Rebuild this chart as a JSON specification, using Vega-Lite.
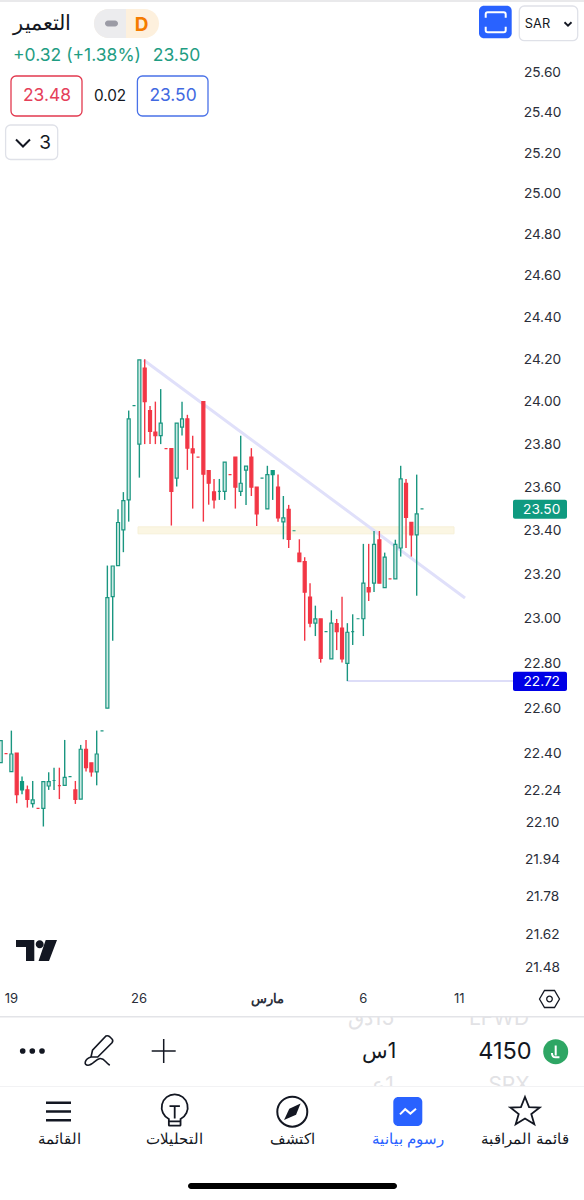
{"$schema":"https://vega.github.io/schema/vega-lite/v6.json","width":584,"height":1200,"padding":0,"autosize":{"type":"none"},"background":"white","config":{"view":{"stroke":null},"text":{"font":"Inter"}},
"datasets":{"candles":[
{"i":0,"o":22.354,"h":22.451,"l":22.354,"c":22.451,"kind":"up"},
{"i":1,"o":22.394,"h":22.394,"l":22.394,"c":22.394,"kind":"down"},
{"i":2,"o":22.315,"h":22.495,"l":22.315,"c":22.392,"kind":"up"},
{"i":3,"o":22.396,"h":22.396,"l":22.177,"c":22.214,"kind":"down"},
{"i":4,"o":22.235,"h":22.293,"l":22.216,"c":22.271,"kind":"solid"},
{"i":5,"o":22.235,"h":22.254,"l":22.158,"c":22.194,"kind":"down"},
{"i":6,"o":22.175,"h":22.274,"l":22.158,"c":22.192,"kind":"up"},
{"i":7,"o":22.155,"h":22.155,"l":22.155,"c":22.155,"kind":"down"},
{"i":8,"o":22.155,"h":22.271,"l":22.076,"c":22.271,"kind":"up"},
{"i":9,"o":22.252,"h":22.312,"l":22.235,"c":22.271,"kind":"up"},
{"i":10,"o":22.276,"h":22.332,"l":22.235,"c":22.276,"kind":"up"},
{"i":11,"o":22.254,"h":22.332,"l":22.195,"c":22.254,"kind":"down"},
{"i":12,"o":22.255,"h":22.454,"l":22.255,"c":22.29,"kind":"up"},
{"i":13,"o":22.293,"h":22.293,"l":22.293,"c":22.293,"kind":"up"},
{"i":14,"o":22.235,"h":22.274,"l":22.174,"c":22.194,"kind":"down"},
{"i":15,"o":22.195,"h":22.432,"l":22.195,"c":22.413,"kind":"up"},
{"i":16,"o":22.413,"h":22.454,"l":22.315,"c":22.332,"kind":"down"},
{"i":17,"o":22.353,"h":22.353,"l":22.293,"c":22.314,"kind":"down"},
{"i":18,"o":22.314,"h":22.495,"l":22.255,"c":22.392,"kind":"up"},
{"i":19,"o":22.494,"h":22.494,"l":22.494,"c":22.494,"kind":"up"},
{"i":20,"o":22.594,"h":23.235,"l":22.594,"c":23.089,"kind":"up"},
{"i":21,"o":23.094,"h":23.233,"l":22.895,"c":23.233,"kind":"up"},
{"i":22,"o":23.235,"h":23.493,"l":23.235,"c":23.432,"kind":"up"},
{"i":23,"o":23.398,"h":23.572,"l":23.296,"c":23.533,"kind":"up"},
{"i":24,"o":23.536,"h":23.952,"l":23.436,"c":23.913,"kind":"up"},
{"i":25,"o":23.975,"h":23.975,"l":23.975,"c":23.975,"kind":"up"},
{"i":26,"o":23.795,"h":24.191,"l":23.639,"c":24.191,"kind":"up"},
{"i":27,"o":24.152,"h":24.194,"l":23.795,"c":23.994,"kind":"down"},
{"i":28,"o":23.952,"h":23.974,"l":23.795,"c":23.854,"kind":"down"},
{"i":29,"o":23.851,"h":23.994,"l":23.795,"c":23.834,"kind":"down"},
{"i":30,"o":23.835,"h":24.053,"l":23.795,"c":23.893,"kind":"up"},
{"i":31,"o":23.774,"h":23.774,"l":23.774,"c":23.774,"kind":"down"},
{"i":32,"o":23.774,"h":23.774,"l":23.418,"c":23.575,"kind":"down"},
{"i":33,"o":23.637,"h":23.893,"l":23.598,"c":23.893,"kind":"up"},
{"i":34,"o":23.874,"h":23.994,"l":23.835,"c":23.913,"kind":"up"},
{"i":35,"o":23.913,"h":23.932,"l":23.675,"c":23.776,"kind":"down"},
{"i":36,"o":23.773,"h":23.834,"l":23.496,"c":23.754,"kind":"down"},
{"i":37,"o":23.734,"h":23.734,"l":23.734,"c":23.734,"kind":"down"},
{"i":38,"o":23.994,"h":23.994,"l":23.436,"c":23.655,"kind":"down"},
{"i":39,"o":23.672,"h":23.672,"l":23.514,"c":23.613,"kind":"down"},
{"i":40,"o":23.573,"h":23.633,"l":23.496,"c":23.536,"kind":"down"},
{"i":41,"o":23.575,"h":23.633,"l":23.536,"c":23.575,"kind":"solid"},
{"i":42,"o":23.575,"h":23.711,"l":23.536,"c":23.711,"kind":"up"},
{"i":43,"o":23.653,"h":23.653,"l":23.653,"c":23.653,"kind":"down"},
{"i":44,"o":23.734,"h":23.734,"l":23.496,"c":23.595,"kind":"down"},
{"i":45,"o":23.575,"h":23.834,"l":23.554,"c":23.613,"kind":"up"},
{"i":46,"o":23.674,"h":23.692,"l":23.513,"c":23.692,"kind":"up"},
{"i":47,"o":23.734,"h":23.776,"l":23.554,"c":23.595,"kind":"down"},
{"i":48,"o":23.595,"h":23.595,"l":23.416,"c":23.472,"kind":"down"},
{"i":49,"o":23.637,"h":23.637,"l":23.637,"c":23.637,"kind":"up"},
{"i":50,"o":23.495,"h":23.694,"l":23.495,"c":23.653,"kind":"up"},
{"i":51,"o":23.653,"h":23.672,"l":23.536,"c":23.672,"kind":"solid"},
{"i":52,"o":23.595,"h":23.653,"l":23.435,"c":23.453,"kind":"down"},
{"i":53,"o":23.435,"h":23.554,"l":23.355,"c":23.453,"kind":"up"},
{"i":54,"o":23.493,"h":23.513,"l":23.315,"c":23.355,"kind":"down"},
{"i":55,"o":23.394,"h":23.394,"l":23.394,"c":23.394,"kind":"up"},
{"i":56,"o":23.292,"h":23.355,"l":23.253,"c":23.253,"kind":"down"},
{"i":57,"o":23.253,"h":23.273,"l":22.895,"c":23.114,"kind":"down"},
{"i":58,"o":23.092,"h":23.155,"l":22.956,"c":22.974,"kind":"down"},
{"i":59,"o":22.974,"h":23.053,"l":22.916,"c":22.993,"kind":"up"},
{"i":60,"o":22.993,"h":22.993,"l":22.797,"c":22.816,"kind":"down"},
{"i":61,"o":22.936,"h":22.936,"l":22.936,"c":22.936,"kind":"up"},
{"i":62,"o":22.814,"h":23.032,"l":22.814,"c":22.974,"kind":"up"},
{"i":63,"o":22.972,"h":22.993,"l":22.853,"c":22.936,"kind":"down"},
{"i":64,"o":22.952,"h":23.093,"l":22.797,"c":22.814,"kind":"down"},
{"i":65,"o":22.794,"h":22.974,"l":22.715,"c":22.933,"kind":"up"},
{"i":66,"o":22.936,"h":23.014,"l":22.876,"c":22.936,"kind":"up"},
{"i":67,"o":22.994,"h":22.994,"l":22.994,"c":22.994,"kind":"up"},
{"i":68,"o":22.994,"h":23.334,"l":22.916,"c":23.155,"kind":"up"},
{"i":69,"o":23.135,"h":23.334,"l":23.074,"c":23.115,"kind":"down"},
{"i":70,"o":23.155,"h":23.393,"l":23.115,"c":23.332,"kind":"up"},
{"i":71,"o":23.352,"h":23.393,"l":23.155,"c":23.155,"kind":"down"},
{"i":72,"o":23.135,"h":23.294,"l":23.135,"c":23.273,"kind":"up"},
{"i":73,"o":23.174,"h":23.174,"l":23.174,"c":23.174,"kind":"down"},
{"i":74,"o":23.174,"h":23.353,"l":23.174,"c":23.332,"kind":"up"},
{"i":75,"o":23.315,"h":23.694,"l":23.276,"c":23.633,"kind":"up"},
{"i":76,"o":23.613,"h":23.633,"l":23.315,"c":23.455,"kind":"down"},
{"i":77,"o":23.433,"h":23.433,"l":23.276,"c":23.375,"kind":"down"},
{"i":78,"o":23.375,"h":23.653,"l":23.098,"c":23.472,"kind":"up"},
{"i":79,"o":23.495,"h":23.495,"l":23.495,"c":23.495,"kind":"up"}
]},
"resolve":{"scale":{"x":"independent","y":"independent","fill":"independent","stroke":"independent","color":"independent","size":"independent"}},
"layer":[
{"layer":[
{"data":{"values":[{"a":25.75,"b":85,"p1":23.412,"p2":23.38}]},"mark":{"type":"rect","fill":"#fbf6e3","stroke":"#f6f0d8","strokeWidth":1},
"encoding":{"x":{"field":"a","type":"quantitative","title":null,"scale":{"domain":[-0.131,109.37],"nice":false,"zero":false,"padding":0},
"axis":{"orient":"bottom","offset":-202,"values":[1.93,25.84,49.88,67.9,85.9],"labelExpr":"datum.value<10?'19':datum.value<30?'26':datum.value<55?'مارس':datum.value<75?'6':'11'","labelFontWeight":{"condition":{"test":"datum.value>40 && datum.value<55","value":"bold"},"value":"normal"},"labelFont":"Inter","labelFontSize":13,"labelColor":"#2a2e39","labelBaseline":"middle","labelPadding":0,"ticks":false,"domain":false,"grid":false,"title":null,"labelOverlap":false,"labelFlush":false}},
"x2":{"field":"b"},
"y":{"field":"p1","type":"quantitative","title":null,"scale":{"type":"log","domain":[20.517,25.96],"nice":false},
"axis":{"orient":"right","offset":-42,"values":[25.6,25.4,25.2,25,24.8,24.6,24.4,24.2,24,23.8,23.6,23.4,23.2,23,22.8,22.6,22.4,22.24,22.1,21.94,21.78,21.62,21.48],"format":".2f","labelFont":"Inter","labelFontSize":13.7,"labelColor":"#2a2e39","labelAlign":"center","labelPadding":0,"labelOffset":1.5,"ticks":false,"domain":false,"grid":false,"title":null,"labelOverlap":false,"labelFlush":false}},
"y2":{"field":"p2"}}},
{"data":{"values":[{"t":26.8,"p":24.191},{"t":87.06,"p":23.088}]},"mark":{"type":"line","stroke":"#e0e0fa","strokeWidth":3},
"encoding":{"x":{"field":"t","type":"quantitative","title":null},"y":{"field":"p","type":"quantitative","title":null}}},
{"data":{"values":[{"t":64.9,"p":22.715},{"t":96.06,"p":22.715}]},"mark":{"type":"line","stroke":"#d2d2f6","strokeWidth":1.5},
"encoding":{"x":{"field":"t","type":"quantitative","title":null},"y":{"field":"p","type":"quantitative","title":null}}},
{"data":{"name":"candles"},"mark":{"type":"rule","strokeWidth":1.4},
"encoding":{"x":{"field":"i","type":"quantitative","title":null},
"y":{"field":"l","type":"quantitative","title":null},
"y2":{"field":"h"},
"stroke":{"field":"kind","type":"nominal","legend":null,"scale":{"domain":["up","solid","down"],"range":["#1a9680","#0f9a80","#f23645"]}}}},
{"data":{"name":"candles"},"mark":{"type":"bar","size":3,"strokeWidth":1.2},
"encoding":{"x":{"field":"i","type":"quantitative","title":null},"y":{"field":"o","type":"quantitative","title":null},"y2":{"field":"c"},
"stroke":{"field":"kind","type":"nominal","legend":null},
"fill":{"field":"kind","type":"nominal","legend":null,"scale":{"domain":["up","solid","down"],"range":["#cdeae4","#0f9a80","#f23645"]}}}}
]},
{"encoding":{"x":{"field":"px","type":"quantitative","scale":{"domain":[0,584],"nice":false,"zero":false},"axis":null},"y":{"field":"py","type":"quantitative","scale":{"domain":[0,1200],"nice":false,"zero":false,"reverse":true},"axis":null}},
"layer":[
{"data":{"values":[{"px":371,"t":"\u200f15دق","py":1019},{"px":499,"t":"LFWD","py":1019},{"px":383,"t":"\u200f1ع","py":1086},{"px":509,"t":"SPX","py":1086}]},"mark":{"type":"text","fontSize":21,"color":"#e2e2e5"},"encoding":{"text":{"field":"t"}}},
{"data":{"values":[{"px":0,"px2":584,"py":0,"py2":2,"part":"band"},{"px":0,"px2":584,"py":1008,"py2":1016,"part":"white"},{"px":0,"px2":584,"py":1016,"py2":1017.5,"part":"line"},{"px":0,"px2":584,"py":1086,"py2":1200,"part":"white"},{"px":0,"px2":584,"py":1086,"py2":1087,"part":"faint"}]},"mark":{"type":"rect"},
"encoding":{"x2":{"field":"px2"},"y2":{"field":"py2"},"fill":{"field":"part","type":"nominal","legend":null,"scale":{"domain":["band","white","line","faint","tagGreen","tagBlue"],"range":["#e9e9eb","#ffffff","#e3e4e8","#f2f2f4","#0f9a80","#0000e6"]}}}},
{"data":{"values":[{"px":513,"px2":567,"py":499.7,"py2":518.7,"part":"tagGreen"},{"px":513,"px2":567,"py":671.7,"py2":691,"part":"tagBlue"}]},"mark":{"type":"rect","cornerRadius":2},
"encoding":{"x2":{"field":"px2"},"y2":{"field":"py2"},"fill":{"field":"part","type":"nominal","legend":null}}},
{"data":{"values":[{"px":94,"px2":159,"py":9,"py2":38}]},"mark":{"type":"rect","fill":"#fdf0dd","cornerRadius":14.5},"encoding":{"x2":{"field":"px2"},"y2":{"field":"py2"}}},
{"data":{"values":[{"px":94,"px2":126,"py":9,"py2":38}]},"mark":{"type":"rect","fill":"#ececee","cornerRadiusTopLeft":14.5,"cornerRadiusBottomLeft":14.5},"encoding":{"x2":{"field":"px2"},"y2":{"field":"py2"}}},
{"data":{"values":[{"px":105,"px2":118,"py":20.5,"py2":26.5}]},"mark":{"type":"rect","fill":"#9b9ba5","cornerRadius":3},"encoding":{"x2":{"field":"px2"},"y2":{"field":"py2"}}},
{"data":{"values":[{"px":188,"px2":397,"py":1183,"py2":1189}]},"mark":{"type":"rect","fill":"#000000","cornerRadius":3},"encoding":{"x2":{"field":"px2"},"y2":{"field":"py2"}}},
{"data":{"values":[{"px":479,"px2":511.7,"py":5.7,"py2":38.3},{"px":393.3,"px2":422.3,"py":1097,"py2":1126}]},"mark":{"type":"rect","fill":"#2962ff","cornerRadius":5},"encoding":{"x2":{"field":"px2"},"y2":{"field":"py2"}}},
{"data":{"values":[{"px":519.3,"px2":577.7,"py":6,"py2":40.7,"box":"plain"},{"px":5.6,"px2":57.7,"py":125,"py2":159.5,"box":"plain"},{"px":11,"px2":82,"py":76,"py2":116,"box":"sell"},{"px":137.4,"px2":208,"py":76,"py2":116,"box":"buy"}]},"mark":{"type":"rect","fill":"#ffffff","cornerRadius":5,"strokeWidth":1.3},
"encoding":{"x2":{"field":"px2"},"y2":{"field":"py2"},"stroke":{"field":"box","type":"nominal","legend":null,"scale":{"domain":["plain","sell","buy"],"range":["#dfe1e8","#e2394f","#4a72e8"]}}}},
{"data":{"values":[
{"px":42,"py":24,"t":"التعمير","tone":"dark","role":"title"},
{"px":77,"py":56,"t":"+0.32 (+1.38%)","tone":"green","role":"info"},
{"px":176.5,"py":56,"t":"23.50","tone":"green","role":"info"},
{"px":47,"py":96,"t":"23.48","tone":"red","role":"quote"},
{"px":110,"py":96,"t":"0.02","tone":"dark","role":"info2"},
{"px":173,"py":96,"t":"23.50","tone":"blue","role":"quote"},
{"px":45,"py":143,"t":"3","tone":"dark","role":"three"},
{"px":537.5,"py":23.5,"t":"SAR","tone":"dark","role":"tiny"},
{"px":541.7,"py":509.5,"t":"23.50","tone":"white","role":"tag"},
{"px":541.7,"py":681.5,"t":"22.72","tone":"white","role":"tag"},
{"px":505,"py":1052,"t":"4150","tone":"dark","role":"big"},
{"px":379,"py":1052,"t":"\u200f1س","tone":"dark","role":"mid"},
{"px":525,"py":1140,"t":"قائمة المراقبة","tone":"dark","role":"nav"},
{"px":408,"py":1140,"t":"رسوم بيانية","tone":"blue2","role":"nav"},
{"px":292,"py":1140,"t":"اكتشف","tone":"dark","role":"nav"},
{"px":174,"py":1140,"t":"التحليلات","tone":"dark","role":"nav"},
{"px":59,"py":1140,"t":"القائمة","tone":"dark","role":"nav"}
]},"mark":{"type":"text","baseline":"middle","font":"Inter"},
"encoding":{"text":{"field":"t"},
"color":{"field":"tone","type":"nominal","legend":null,"scale":{"domain":["dark","green","red","blue","blue2","white"],"range":["#131722","#1f9d83","#e5405a","#4169e1","#2962ff","#ffffff"]}},
"size":{"field":"role","type":"nominal","legend":null,"scale":{"type":"ordinal","domain":["title","info","quote","info2","three","tiny","tag","big","mid","nav"],"range":[21,17.5,17.4,15.3,19,12.8,13.7,23.5,21,14.5]}}}},
{"data":{"values":[{"px":141.5,"py":24.5,"t":"D"}]},"mark":{"type":"text","font":"Inter","fontWeight":"bold","fontSize":19,"color":"#f57c00","baseline":"middle"},"encoding":{"text":{"field":"t"}}},
{"data":{"values":[{"px":495.7,"py":22.2}]},"mark":{"type":"point","filled":false,"size":400,"stroke":"#ffffff","strokeWidth":2,"opacity":1,"shape":"M-1,-.45 L-1,-.8 Q-1,-1 -.8,-1 L.8,-1 Q1,-1 1,-.8 L1,-.45 M-1,.45 L-1,.8 Q-1,1 -.8,1 L.8,1 Q1,1 1,.8 L1,.45"}},
{"data":{"values":[{"px":568,"py":24}]},"mark":{"type":"point","filled":false,"size":49,"stroke":"#131722","strokeWidth":1.8,"opacity":1,"shape":"M-1,-.5 L0,.5 L1,-.5"}},
{"data":{"values":[{"px":23,"py":143}]},"mark":{"type":"point","filled":false,"size":196,"stroke":"#131722","strokeWidth":2,"opacity":1,"shape":"M-1,-.5 L0,.5 L1,-.5"}},
{"data":{"values":[{"px":36.5,"py":951}]},"mark":{"type":"point","filled":true,"size":1681,"fill":"#131722","opacity":1,"shape":"M-1,-.537 L-.107,-.537 L-.107,.488 L-.512,.488 L-.512,-.195 L-1,-.195 Z M-.039,-.327 A.195,.195 0 1 1 .351,-.327 A.195,.195 0 1 1 -.039,-.327 Z M.449,-.537 L1,-.537 L.61,.488 L.1,.488 Z"}},
{"data":{"values":[{"px":549.5,"py":999}]},"mark":{"type":"point","filled":false,"size":400,"stroke":"#131722","strokeWidth":1.3,"opacity":1,"shape":"M-1,0 L-.5,-.85 L.5,-.85 L1,0 L.5,.85 L-.5,.85 Z M-.28,0 A.28,.28 0 1 1 .28,0 A.28,.28 0 1 1 -.28,0 Z"}},
{"data":{"values":[{"px":22.7,"py":1051},{"px":32.3,"py":1051},{"px":42,"py":1051}]},"mark":{"type":"point","filled":true,"size":32,"shape":"circle","fill":"#131722","opacity":1}},
{"data":{"values":[{"px":163.7,"py":1051}]},"mark":{"type":"point","filled":false,"size":576,"stroke":"#131722","strokeWidth":1.5,"opacity":1,"shape":"M-1,0 L1,0 M0,-1 L0,1"}},
{"data":{"values":[{"px":98.5,"py":1051}]},"mark":{"type":"point","filled":false,"size":900,"stroke":"#131722","strokeWidth":1.6,"opacity":1,"shape":"M-.5,.4 L-.4,-.05 L.5,-1 Q.62,-1.05 .75,-.95 L.9,-.8 Q1,-.7 .9,-.55 L-.05,.4 Z M-.5,.4 C-.95,.55 -1,.95 -.7,.95 C-.4,.95 -.2,.55 .1,.5 C.4,.48 .45,.75 .75,.95"}},
{"data":{"values":[{"px":174.7,"py":1110}]},"mark":{"type":"point","filled":false,"size":676,"stroke":"#131722","strokeWidth":1.8,"opacity":1,"shape":"M-.45,.69 A1,1 0 1 1 .45,.69 L.45,1.15 Q.45,1.2 .4,1.2 L-.4,1.2 Q-.45,1.2 -.45,1.15 Z M-.45,.88 L.45,.88 M-.4,-.3 L.4,-.3 M0,-.3 L0,.65"}},
{"data":{"values":[{"px":292.3,"py":1111.7}]},"mark":{"type":"point","filled":false,"size":900,"stroke":"#131722","strokeWidth":2,"opacity":1,"shape":"M-1,0 A1,1 0 1 1 1,0 A1,1 0 1 1 -1,0 Z"}},
{"data":{"values":[{"px":292.3,"py":1111.7}]},"mark":{"type":"point","filled":true,"size":900,"fill":"#131722","opacity":1,"shape":"M.55,-.55 L.25,.2 L-.55,.55 L-.2,-.2 Z"}},
{"data":{"values":[{"px":408,"py":1112}]},"mark":{"type":"point","filled":false,"size":256,"stroke":"#ffffff","strokeWidth":2,"opacity":1,"shape":"M-1,.3 L-.35,-.35 L.3,.2 L1,-.4"}},
{"data":{"values":[{"px":525,"py":1112}]},"mark":{"type":"point","filled":false,"size":900,"stroke":"#131722","strokeWidth":1.8,"opacity":1,"shape":"M0,-1 L.27,-.32 L.98,-.3 L.42,.14 L.62,.82 L0,.43 L-.62,.82 L-.42,.14 L-.98,-.3 L-.27,-.32 Z"}},
{"data":{"values":[{"px":58.5,"py":1111.5}]},"mark":{"type":"point","filled":false,"size":625,"stroke":"#131722","strokeWidth":2.5,"opacity":1,"shape":"M-1,-.7 L1,-.7 M-1,0 L1,0 M-1,.7 L1,.7"}},
{"data":{"values":[{"px":555.7,"py":1051.7}]},"mark":{"type":"point","filled":true,"size":625,"shape":"circle","fill":"#2ea664","opacity":1}},
{"data":{"values":[{"px":555.7,"py":1051.7}]},"mark":{"type":"point","filled":false,"size":625,"stroke":"#ffffff","strokeWidth":2,"opacity":1,"shape":"M0,-.5 L0,.3 M-.3,.1 Q-.3,.45 0,.45 L.3,.45"}}
]}
]}
